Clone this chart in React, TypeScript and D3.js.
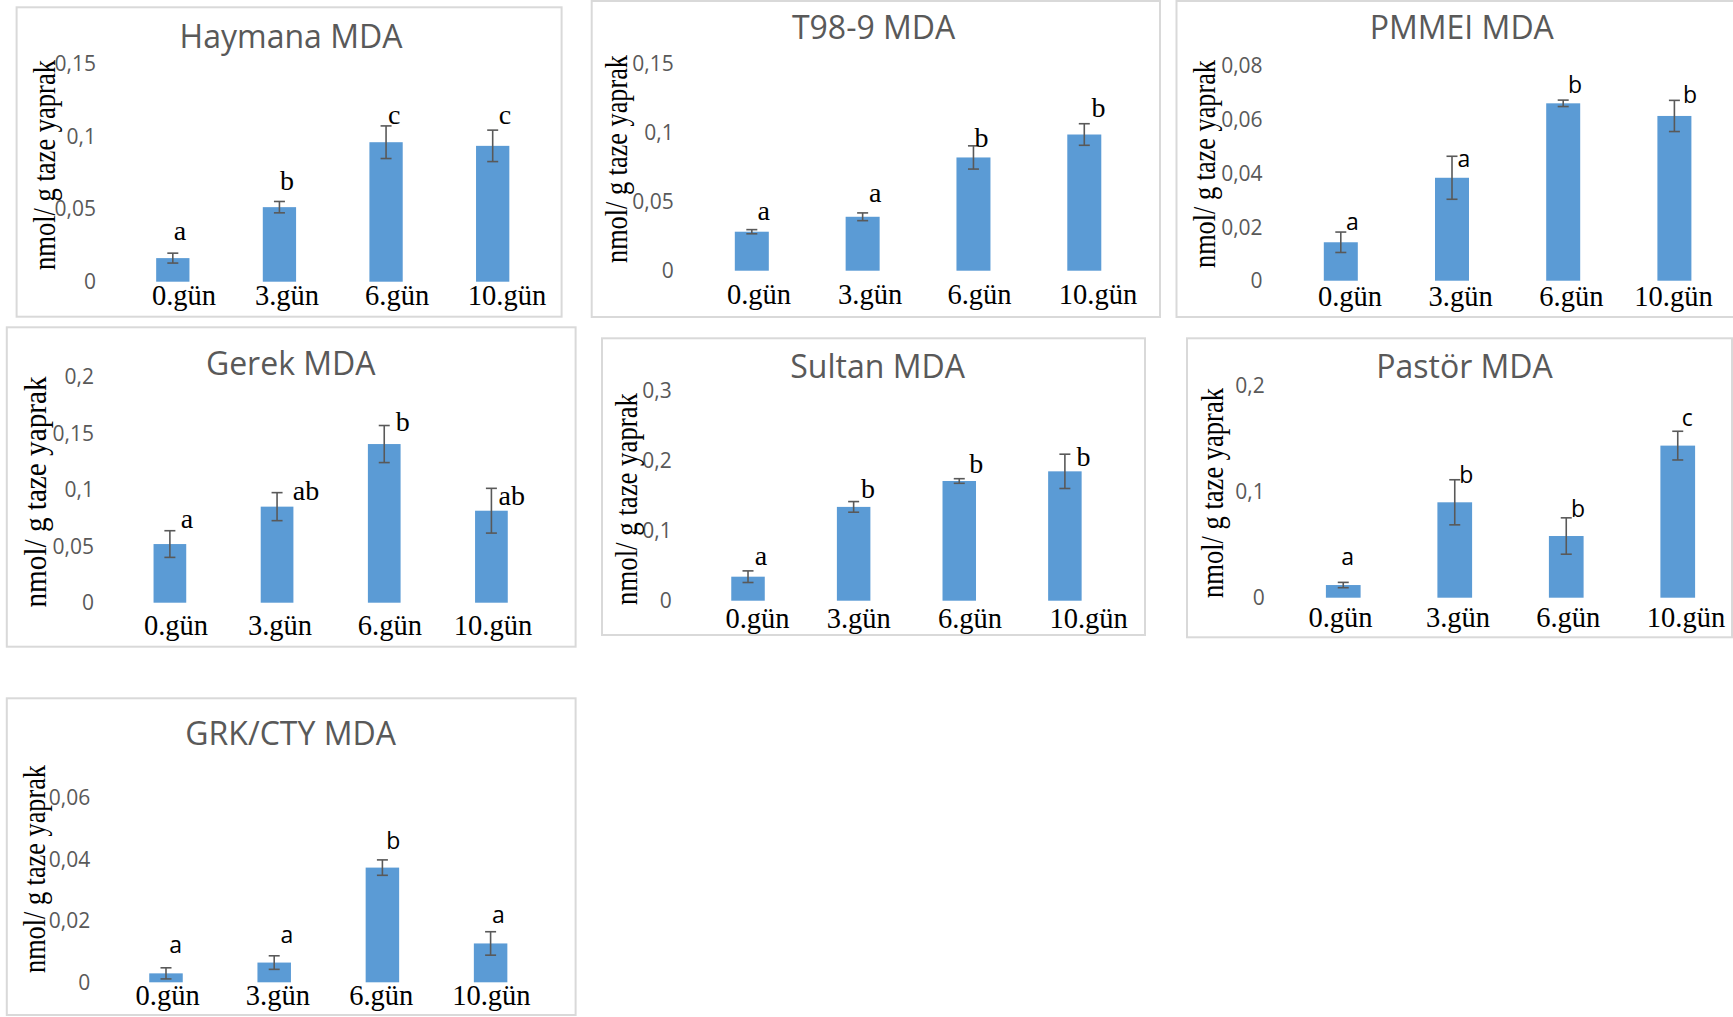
import React from 'react';
import * as d3 from 'd3';

// ---------- DATA ----------
const categories = ['0.gün', '3.gün', '6.gün', '10.gün'];
const titles = ['Haymana MDA', 'T98-9 MDA', 'PMMEI MDA', 'Gerek MDA', 'Sultan MDA', 'Pastör MDA', 'GRK/CTY MDA'];
const yAxisTitle = 'nmol/ g taze yaprak';

const haymanaValues = [0.0162, 0.0512, 0.0958, 0.0933];
const haymanaErrors = [0.0034, 0.0039, 0.0112, 0.0108];
const haymanaLetters = ['a', 'b', 'c', 'c'];
const haymanaTicks = [0, 0.05, 0.1, 0.15];

const t989Values = [0.0282, 0.039, 0.0819, 0.0985];
const t989Errors = [0.0015, 0.0028, 0.0084, 0.0078];
const t989Letters = ['a', 'a', 'b', 'b'];
const t989Ticks = [0, 0.05, 0.1, 0.15];

const pmmeiValues = [0.0143, 0.0383, 0.066, 0.0613];
const pmmeiErrors = [0.0038, 0.008, 0.0012, 0.0058];
const pmmeiLetters = ['a', 'a', 'b', 'b'];
const pmmeiTicks = [0, 0.02, 0.04, 0.06, 0.08];

const gerekValues = [0.0519, 0.085, 0.1404, 0.0814];
const gerekErrors = [0.0118, 0.0124, 0.0164, 0.0198];
const gerekLetters = ['a', 'ab', 'b', 'ab'];
const gerekTicks = [0, 0.05, 0.1, 0.15, 0.2];

const sultanValues = [0.0343, 0.134, 0.171, 0.1848];
const sultanErrors = [0.0083, 0.0076, 0.0033, 0.0245];
const sultanLetters = ['a', 'b', 'b', 'b'];
const sultanTicks = [0, 0.1, 0.2, 0.3];

const pastorValues = [0.0119, 0.0897, 0.058, 0.143];
const pastorErrors = [0.0025, 0.0212, 0.0171, 0.0135];
const pastorLetters = ['a', 'b', 'b', 'c'];
const pastorTicks = [0, 0.1, 0.2];

const grkValues = [0.0029, 0.0064, 0.0372, 0.0126];
const grkErrors = [0.0018, 0.0022, 0.0025, 0.0038];
const grkLetters = ['a', 'a', 'b', 'a'];
const grkTicks = [0, 0.02, 0.04, 0.06];

// letter annotation heights (data units)
const haymanaLetterY = [0.0286, 0.063, 0.1083, 0.1083];
const t989LetterY = [0.0367, 0.0499, 0.0892, 0.111];
const pmmeiLetterY = [0.0189, 0.0424, 0.07, 0.0662];
const gerekLetterY = [0.0658, 0.0909, 0.152, 0.0865];
const sultanLetterY = [0.051, 0.1463, 0.182, 0.1924];
const pastorLetterY = [0.0307, 0.1081, 0.0762, 0.1614];
const grkLetterY = [0.0094, 0.0126, 0.0431, 0.0191];

// ---------- LAYOUT ----------
const panels = [
  { values: haymanaValues, errors: haymanaErrors, letters: haymanaLetters, ticks: haymanaTicks, letterY: haymanaLetterY,
    box: [16.6, 7.3, 561.6, 316.7], band: [119.5, 546], bw: 33.3, yr: [281.7, 63.3], tickX: 96,
    title: [291, 48.3], yl: [55, 165, 210], xlBase: 305, xlDx: [11.2, 7.6, 11.1, 14.3], ltDx: [7.2, 7.6, 8.1, 12.3], ltSerif: true },
  { values: t989Values, errors: t989Errors, letters: t989Letters, ticks: t989Ticks, letterY: t989LetterY,
    box: [591.7, 1, 1160, 317], band: [696.4, 1139.7], bw: 34, yr: [270.7, 63.3], tickX: 673.8,
    title: [873.6, 39.3], yl: [627, 159, 208], xlBase: 304, xlDx: [7.2, 7.5, 6, 13.7], ltDx: [11.9, 12.7, 8, 14.2], ltSerif: true },
  { values: pmmeiValues, errors: pmmeiErrors, letters: pmmeiLetters, ticks: pmmeiTicks, letterY: pmmeiLetterY,
    box: [1176.5, 1, 1745, 317], band: [1285.2, 1730], bw: 34, yr: [280.7, 65.7], tickX: 1262.6,
    title: [1461.8, 39.3], yl: [1215, 164, 208], xlBase: 306, xlDx: [9.2, 8.6, 8.2, -0.9], ltDx: [11.6, 12, 11.9, 15.6], ltSerif: false },
  { values: gerekValues, errors: gerekErrors, letters: gerekLetters, ticks: gerekTicks, letterY: gerekLetterY,
    box: [6.8, 327.3, 575.6, 646.7], band: [116.3, 545], bw: 32.7, yr: [602.7, 376.7], tickX: 94,
    title: [290.7, 375], yl: [46, 492, 231], xlBase: 635, xlDx: [6.1, 2.9, 5.6, 1.6], ltDx: [17.1, 29, 18.4, 20.3], ltSerif: true },
  { values: sultanValues, errors: sultanErrors, letters: sultanLetters, ticks: sultanTicks, letterY: sultanLetterY,
    box: [602, 338.3, 1145, 635], band: [695.2, 1117.7], bw: 33.5, yr: [600.7, 390.7], tickX: 671.8,
    title: [877.6, 378.3], yl: [637, 499, 212], xlBase: 628.3, xlDx: [9.5, 5.1, 10.7, 23.7], ltDx: [13, 14.3, 17.1, 18.7], ltSerif: true },
  { values: pastorValues, errors: pastorErrors, letters: pastorLetters, ticks: pastorTicks, letterY: pastorLetterY,
    box: [1187, 338.3, 1732, 637.3], band: [1287.5, 1733.5], bw: 34.7, yr: [597.7, 385], tickX: 1264.7,
    title: [1464.5, 378.3], yl: [1223, 493, 210], xlBase: 626.7, xlDx: [-2.7, 3.2, 2, 8.3], ltDx: [4.3, 11.6, 11.9, 9.5], ltSerif: false },
  { values: grkValues, errors: grkErrors, letters: grkLetters, ticks: grkTicks, letterY: grkLetterY,
    box: [6.8, 698.3, 575.6, 1015], band: [111.9, 544.7], bw: 33.5, yr: [982.3, 797.3], tickX: 90.3,
    title: [290.6, 745], yl: [45, 869, 208], xlBase: 1005, xlDx: [1.6, 3.7, -1.2, 0.8], ltDx: [9.7, 12.7, 11, 7.9], ltSerif: false },
];

const locale = d3.formatLocale({ decimal: ',', thousands: '.', grouping: [3], currency: ['', ''] });
const fmt = locale.format('~g');

const SANS = "'Open Sans', 'Noto Sans', sans-serif";
const SERIF = "'Liberation Serif', 'Times New Roman', serif";
const BAR = '#5b9bd5';
const GRAY = '#595959';

function Panel({ p, title }: { p: any; title: string }) {
  const n = categories.length;
  const span = p.band[1] - p.band[0];
  const step = span / n;
  const pad = 1 - p.bw / step;
  const x = d3.scaleBand<string>().domain(categories).range([p.band[0], p.band[1]]).paddingInner(pad).paddingOuter(pad / 2);
  const maxTick = p.ticks[p.ticks.length - 1];
  const y = d3.scaleLinear().domain([0, maxTick]).range(p.yr);
  const [bx0, by0, bx1, by1] = p.box;
  const capHalf = 5.5;
  return (
    <g>
      <rect x={bx0} y={by0} width={bx1 - bx0} height={by1 - by0} fill="#fff" stroke="#d9d9d9" strokeWidth={2} />
      <text x={p.title[0]} y={p.title[1]} textAnchor="middle" fontFamily={SANS} fontSize={32} fill={GRAY}>{title}</text>
      {p.ticks.map((t: number, i: number) => (
        <text key={'t' + i} x={p.tickX} y={y(t)} dy="0.36em" textAnchor="end" fontFamily={SANS} fontSize={21} fill={GRAY}>{fmt(t)}</text>
      ))}
      <text transform={`translate(${p.yl[0]},${p.yl[1]}) rotate(-90)`} textAnchor="middle" fontFamily={SERIF} fontSize={31}
        fill="#000" textLength={p.yl[2]} lengthAdjust="spacingAndGlyphs">{yAxisTitle}</text>
      {categories.map((c, i) => {
        const cx = (x(c) as number) + x.bandwidth() / 2;
        const v = p.values[i];
        const e = p.errors[i];
        return (
          <g key={c}>
            <rect x={x(c)} y={y(v)} width={x.bandwidth()} height={y(0) - y(v)} fill={BAR} />
            <line x1={cx} x2={cx} y1={y(v + e)} y2={y(v - e)} stroke={GRAY} strokeWidth={1.6} />
            <line x1={cx - capHalf} x2={cx + capHalf} y1={y(v + e)} y2={y(v + e)} stroke={GRAY} strokeWidth={1.6} />
            <line x1={cx - capHalf} x2={cx + capHalf} y1={y(v - e)} y2={y(v - e)} stroke={GRAY} strokeWidth={1.6} />
            <text x={cx + p.ltDx[i]} y={y(p.letterY[i])} textAnchor="middle"
              fontFamily={p.ltSerif ? SERIF : SANS} fontSize={p.ltSerif ? 28 : 23} fill="#000">{p.letters[i]}</text>
            <text x={cx + p.xlDx[i]} y={p.xlBase} textAnchor="middle" fontFamily={SERIF} fontSize={28.5} fill="#000">{c}</text>
          </g>
        );
      })}
    </g>
  );
}

export default function App() {
  return (
    <svg width={1733} height={1017} viewBox="0 0 1733 1017"
      style={{ position: 'absolute', left: 0, top: 0, background: '#fff', display: 'block' }}>
      <rect x={0} y={0} width={1733} height={1017} fill="#fff" />
      {panels.map((p, i) => <Panel key={i} p={p} title={titles[i]} />)}
    </svg>
  );
}
